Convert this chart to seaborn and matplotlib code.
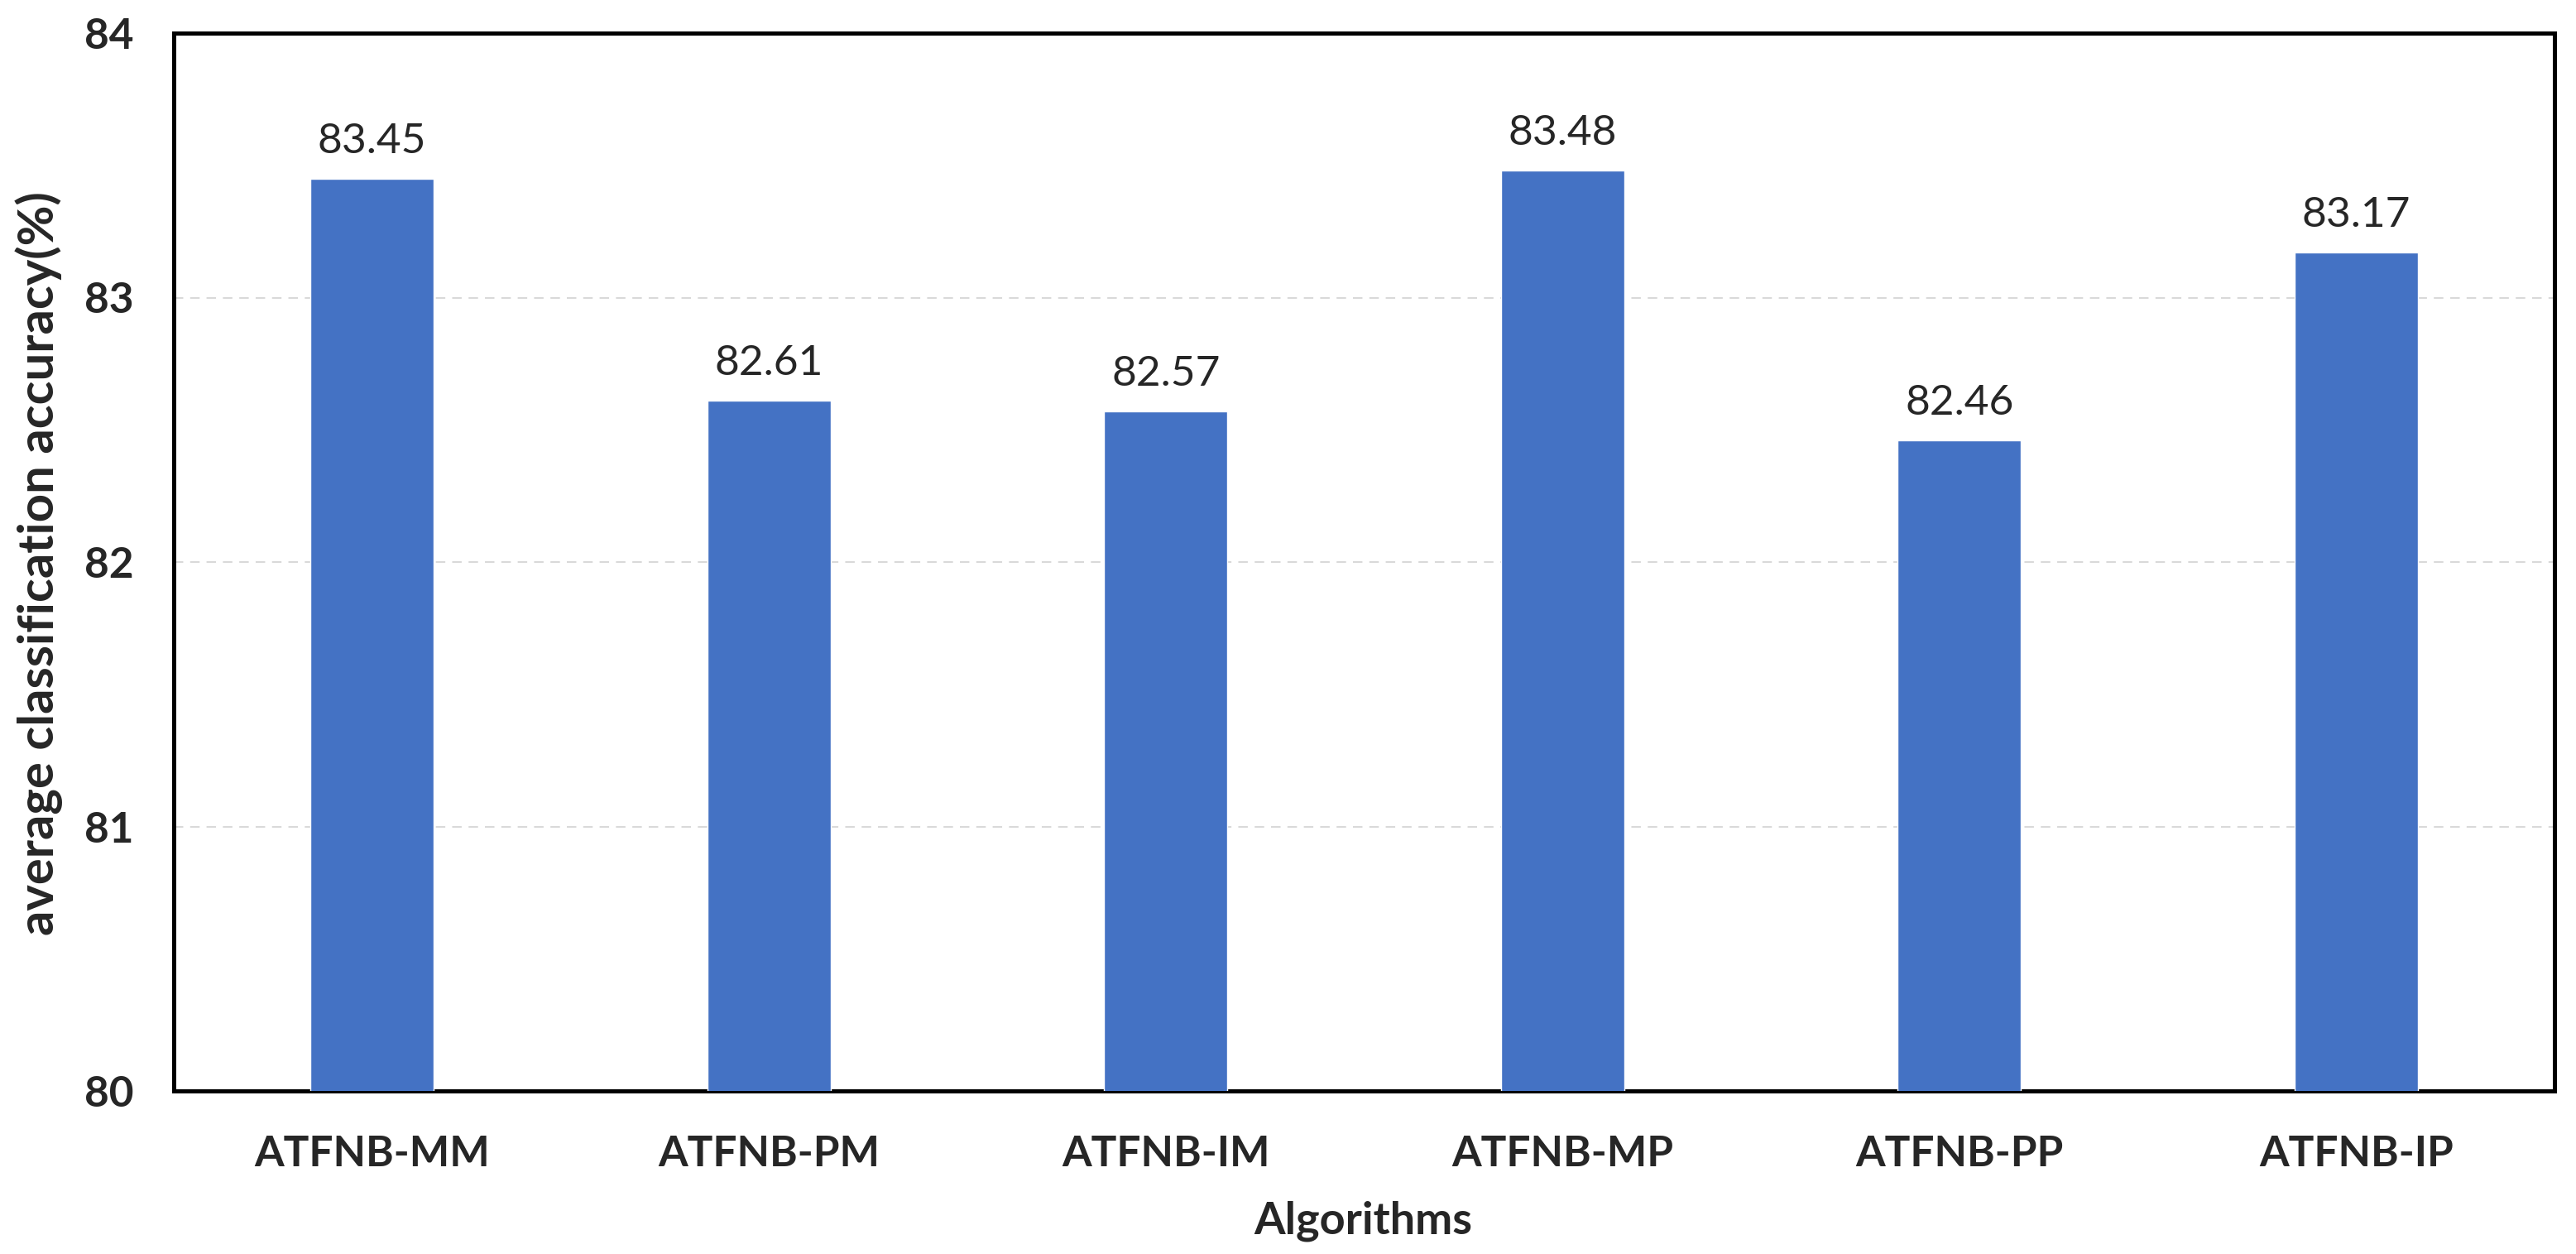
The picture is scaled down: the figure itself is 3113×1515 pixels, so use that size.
import pandas as pd
import seaborn as sns
import matplotlib.pyplot as plt

ALGORITHMS = ["ATFNB-MM", "ATFNB-PM", "ATFNB-IM", "ATFNB-MP", "ATFNB-PP", "ATFNB-IP"]
ACCURACY = [83.45, 82.61, 82.57, 83.48, 82.46, 83.17]
Y_TICKS = [80, 81, 82, 83, 84]

BAR_COLOR = "#4472C4"
GRID_COLOR = "#D9D9D9"


def build_dataframe() -> pd.DataFrame:
    return pd.DataFrame({"Algorithm": ALGORITHMS, "Accuracy": ACCURACY})


def render() -> None:
    sns.set_style("white")
    plt.rcParams["font.family"] = ["Lato", "DejaVu Sans"]

    df = build_dataframe()
    fig = plt.figure(figsize=(31.13, 15.15), dpi=100)
    # axes box: left 210, right 3087, top 40, bottom 1318 (pixels)
    ax = fig.add_axes([210 / 3113, 1 - 1318 / 1515, 2877 / 3113, 1278 / 1515])

    sns.barplot(data=df, x="Algorithm", y="Accuracy", color=BAR_COLOR,
                width=0.31, saturation=1, ax=ax, zorder=3)

    ax.set_ylim(80, 84)
    ax.set_xlim(-0.5, len(ALGORITHMS) - 0.5)
    ax.set_yticks(Y_TICKS)
    ax.set_yticklabels([str(t) for t in Y_TICKS], fontsize=37, fontweight="bold")
    ax.set_xticklabels(ALGORITHMS, fontsize=37, fontweight="bold")
    ax.tick_params(axis="y", length=0, pad=35)
    ax.tick_params(axis="x", length=0, pad=38)

    for y in Y_TICKS[1:-1]:
        ax.axhline(y, color=GRID_COLOR, linestyle=(0, (5.5, 4)), linewidth=1.5, zorder=1)

    for spine in ax.spines.values():
        spine.set_visible(True)
        spine.set_color("black")
        spine.set_linewidth(3.6)

    for container in ax.containers:
        ax.bar_label(container, labels=[f"{v:.2f}" for v in ACCURACY],
                     padding=16, fontsize=37)

    ax.set_xlabel("")
    ax.set_ylabel("")
    fig.text(47.5 / 3113, 1 - 681 / 1515, "average classification accuracy(%)",
             rotation=90, ha="center", va="center", fontsize=43, fontweight="bold")
    fig.text(1647 / 3113, 1 - 1490 / 1515, "Algorithms", ha="center", va="baseline",
             fontsize=39, fontweight="bold")

    fig.savefig("out.png", dpi=100)


render()
